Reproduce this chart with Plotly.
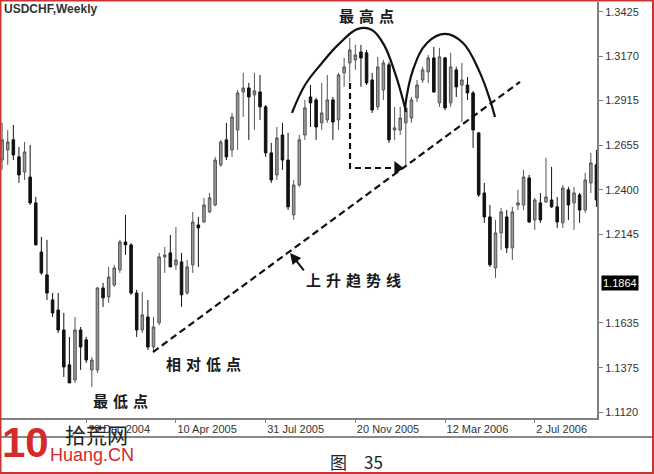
import plotly.graph_objects as go
import pandas as pd

# ---------------- data (weekly USDCHF candles) ----------------
start_week = "2004-09-05"

open_ = [
    1.2572, 1.2630, 1.2688, 1.2590, 1.2503, 1.2474, 1.2325, 1.2042, 1.1910, 1.1766,
    1.1708, 1.1593, 1.1392, 1.1305, 1.1593, 1.1536, 1.1363, 1.1363, 1.1835, 1.1783,
    1.1852, 1.1939, 1.2100, 1.2083, 1.1806, 1.1593, 1.1668, 1.1495, 1.1634, 1.2014,
    1.2037, 1.1968, 1.1985, 1.1806, 1.1968, 1.2198, 1.2215, 1.2273, 1.2313, 1.2544,
    1.2688, 1.2630, 1.2745, 1.2964, 1.2987, 1.2947, 1.2964, 1.2878, 1.2613, 1.2486,
    1.2716, 1.2572, 1.2256, 1.2428, 1.2716, 1.2935, 1.2918, 1.2786, 1.2803, 1.2918,
    1.2803, 1.3074, 1.3131, 1.3148, 1.3194, 1.3189, 1.3033, 1.2878, 1.2976, 1.3120,
    1.2745, 1.2745, 1.2786, 1.2814, 1.2930, 1.3033, 1.3079, 1.3160, 1.2901, 1.3160,
    1.2901, 1.3091, 1.3004, 1.3004, 1.2958, 1.2728, 1.2382, 1.2244, 1.1950, 1.2152,
    1.2244, 1.2066, 1.2313, 1.2313, 1.2469, 1.2227, 1.2325, 1.2330, 1.2342, 1.2302,
    1.2210, 1.2400, 1.2325, 1.2371, 1.2284, 1.2440, 1.2544]

high = [
    1.2786, 1.2745, 1.2774, 1.2647, 1.2676, 1.2659, 1.2359, 1.2129, 1.2112, 1.1806,
    1.1806, 1.1691, 1.1553, 1.1668, 1.1610, 1.1553, 1.1438, 1.1841, 1.1864, 1.1956,
    1.1968, 1.2112, 1.2256, 1.2094, 1.1824, 1.1812, 1.1766, 1.1668, 1.2037, 1.2071,
    1.2140, 1.2186, 1.2037, 1.1996, 1.2273, 1.2244, 1.2354, 1.2382, 1.2590, 1.2688,
    1.2786, 1.2843, 1.2976, 1.3074, 1.3016, 1.3074, 1.3062, 1.2889, 1.2670, 1.2762,
    1.2786, 1.2728, 1.2457, 1.2716, 1.2918, 1.3004, 1.2930, 1.3016, 1.3062, 1.2935,
    1.3074, 1.3160, 1.3275, 1.3235, 1.3235, 1.3206, 1.3074, 1.3166, 1.3148, 1.3137,
    1.2878, 1.2878, 1.2901, 1.2935, 1.3033, 1.3108, 1.3177, 1.3223, 1.3218, 1.3166,
    1.3189, 1.3108, 1.3131, 1.3050, 1.2970, 1.2734, 1.2440, 1.2313, 1.2227, 1.2296,
    1.2284, 1.2302, 1.2400, 1.2515, 1.2486, 1.2354, 1.2382, 1.2584, 1.2532, 1.2359,
    1.2428, 1.2417, 1.2417, 1.2382, 1.2498, 1.2613, 1.2630]

low = [
    1.2515, 1.2544, 1.2572, 1.2440, 1.2457, 1.2313, 1.2083, 1.1910, 1.1766, 1.1668,
    1.1576, 1.1322, 1.1288, 1.1288, 1.1363, 1.1403, 1.1265, 1.1346, 1.1726, 1.1749,
    1.1841, 1.1922, 1.2025, 1.1795, 1.1553, 1.1576, 1.1478, 1.1466, 1.1620, 1.1922,
    1.1956, 1.1939, 1.1726, 1.1795, 1.1922, 1.1956, 1.2210, 1.2267, 1.2305, 1.2532,
    1.2572, 1.2590, 1.2630, 1.2820, 1.2688, 1.2745, 1.2803, 1.2590, 1.2440, 1.2457,
    1.2515, 1.2284, 1.2227, 1.2417, 1.2688, 1.2762, 1.2688, 1.2745, 1.2786, 1.2688,
    1.2745, 1.2993, 1.3022, 1.3091, 1.2993, 1.3004, 1.2843, 1.2860, 1.2918, 1.2670,
    1.2688, 1.2716, 1.2544, 1.2786, 1.2906, 1.3016, 1.3016, 1.2958, 1.2878, 1.2860,
    1.2878, 1.2935, 1.2791, 1.2918, 1.2642, 1.2359, 1.2210, 1.1956, 1.1893, 1.2054,
    1.2037, 1.1996, 1.2284, 1.2284, 1.2210, 1.2169, 1.2210, 1.2325, 1.2296, 1.2181,
    1.2181, 1.2227, 1.2169, 1.2210, 1.2267, 1.2382, 1.2302]

close = [
    1.2688, 1.2676, 1.2601, 1.2486, 1.2618, 1.2325, 1.2083, 1.1922, 1.1806, 1.1691,
    1.1593, 1.1380, 1.1288, 1.1593, 1.1495, 1.1420, 1.1420, 1.1835, 1.1778, 1.1898,
    1.1950, 1.2100, 1.2083, 1.1806, 1.1593, 1.1680, 1.1495, 1.1610, 1.2014, 1.2025,
    1.1956, 1.1996, 1.1795, 1.1956, 1.2215, 1.2181, 1.2313, 1.2354, 1.2572, 1.2676,
    1.2590, 1.2820, 1.2958, 1.2987, 1.2935, 1.2970, 1.2878, 1.2613, 1.2457, 1.2699,
    1.2572, 1.2302, 1.2428, 1.2688, 1.2872, 1.2901, 1.2762, 1.2843, 1.2918, 1.2791,
    1.3062, 1.3108, 1.3206, 1.3177, 1.3160, 1.3016, 1.2860, 1.3108, 1.3131, 1.2688,
    1.2757, 1.2814, 1.2872, 1.2918, 1.3004, 1.3091, 1.3160, 1.2964, 1.3166, 1.2872,
    1.3108, 1.2993, 1.3033, 1.2958, 1.2745, 1.2371, 1.2244, 1.1968, 1.2152, 1.2273,
    1.2066, 1.2273, 1.2325, 1.2474, 1.2215, 1.2342, 1.2227, 1.2359, 1.2302, 1.2215,
    1.2411, 1.2313, 1.2382, 1.2284, 1.2457, 1.2555, 1.2342]

# axis ticks
x_tick_dates = ["2004-12-19", "2005-04-10", "2005-07-31", "2005-11-20", "2006-03-12", "2006-07-02"]
x_tick_labels = ["19 Dec 2004", "10 Apr 2005", "31 Jul 2005", "20 Nov 2005", "12 Mar 2006", "2 Jul 2006"]
y_tick_vals = [1.1120, 1.1375, 1.1635, 1.2145, 1.2400, 1.2655, 1.2915, 1.3170, 1.3425]
y_tick_labels = ["1.1120", "1.1375", "1.1635", "1.2145", "1.2400", "1.2655", "1.2915", "1.3170", "1.3425"]
current_price = 1.1864

# hand-drawn annotation guides (week index from start, price)
arc1_wk = [51.70, 54.02, 57.05, 59.91, 63.47, 65.97, 68.11, 70.07, 71.50, 72.03]
arc1_px = [1.2843, 1.3004, 1.3131, 1.3235, 1.3327, 1.3321, 1.3235, 1.3074, 1.2918, 1.2849]
arc2_wk = [71.86, 73.28, 75.78, 78.99, 82.20, 85.23, 87.02, 87.91]
arc2_px = [1.2878, 1.3091, 1.3246, 1.3298, 1.3246, 1.3074, 1.2918, 1.2820]
trend_wk = [26.91, 92.37]
trend_px = [1.1466, 1.3022]
drop_wk = [62.05, 62.05, 69.9]
drop_px = [1.3016, 1.2526, 1.2526]

# ---------------- figure ----------------
start = pd.Timestamp(start_week)
dates = pd.date_range(start, periods=len(open_), freq="7D")


def wk(i):
    return start + pd.Timedelta(days=7 * i)


W, H = 654, 474
ML, MR, MT, MB = 1, 57, 2, 56
PW, PH = W - ML - MR, H - MT - MB


def px(x):
    return (x - ML) / PW


def py(y):
    return (H - MB - y) / PH


fig = go.Figure()
fig.add_trace(go.Candlestick(
    x=dates, open=open_, high=high, low=low, close=close,
    increasing=dict(line=dict(color="#555555", width=1), fillcolor="#9a9a9a"),
    decreasing=dict(line=dict(color="#111111", width=1), fillcolor="#111111"),
    whiskerwidth=0, showlegend=False, hoverinfo="skip"))

for xs, ys in ((arc1_wk, arc1_px), (arc2_wk, arc2_px)):
    fig.add_trace(go.Scatter(x=[wk(v) for v in xs], y=ys, mode="lines",
                             line=dict(color="#111111", width=2.2, shape="spline", smoothing=1.1),
                             showlegend=False, hoverinfo="skip"))

fig.add_trace(go.Scatter(x=[wk(v) for v in trend_wk], y=trend_px, mode="lines",
                         line=dict(color="#111111", width=2.2, dash="7px,4px"),
                         showlegend=False, hoverinfo="skip"))
fig.add_trace(go.Scatter(x=[wk(v) for v in drop_wk], y=drop_px, mode="lines",
                         line=dict(color="#111111", width=2.2, dash="6px,4px"),
                         showlegend=False, hoverinfo="skip"))
fig.add_trace(go.Scatter(x=[wk(70.5)], y=[drop_px[-1]], mode="markers",
                         marker=dict(symbol="triangle-right", size=12, color="#111111"),
                         showlegend=False, hoverinfo="skip"))

cjk = "Noto Sans CJK SC"
sp = "\u2004"
ann = []


def label(text, x, y, size=15, color="#1a1a1a", family=cjk, bold=True, anchor="center"):
    t = f"<b>{text}</b>" if bold else text
    ann.append(dict(text=t, x=px(x), y=py(y), xref="paper", yref="paper",
                    xanchor=anchor, yanchor="middle", showarrow=False,
                    font=dict(family=family, size=size, color=color)))


label("USDCHF,Weekly", 2, 9, size=12, color="#333333", family="Liberation Sans", anchor="left")
label(sp.join("最高点"), 367, 16)
label(sp.join("上升趋势线"), 353, 279)
label(sp.join("相对低点"), 203, 363)
label(sp.join("最低点"), 121, 400)
label("图" + "\u2003" + "35", 356, 461, size=17, color="#222222", bold=False)

# watermark
label("10", 25, 443, size=42, color="#d42a2a", family="Liberation Sans", anchor="center")
label("拾荒网", 96, 434, size=21, color="#222222", bold=False)
label("Huang.CN", 92, 455, size=18, color="#d42a2a", family="Liberation Sans", bold=False)

# arrow pointing at the trend line
ann.append(dict(x=wk(51.35), y=1.2037, xref="x", yref="y", ax=15, ay=19, text="",
                showarrow=True, arrowhead=2, arrowsize=1.1, arrowwidth=2, arrowcolor="#111111"))

# current price box
ann.append(dict(text="1.1864", x=px(601), y=current_price, xref="paper", yref="y",
                xanchor="left", yanchor="middle", showarrow=False, bgcolor="#000000",
                borderpad=1, font=dict(family="Liberation Sans", size=11, color="#ffffff")))

shapes = [
    dict(type="line", xref="paper", yref="paper", x0=px(0), x1=px(W), y0=py(437), y1=py(437),
         line=dict(color="#888888", width=2)),
    dict(type="rect", xref="paper", yref="paper", x0=px(0.5), x1=px(W - 1), y0=py(0.5), y1=py(H - 1),
         line=dict(color="#cc3333", width=2)),
]

fig.update_layout(
    width=W, height=H,
    margin=dict(l=ML, r=MR, t=MT, b=MB),
    paper_bgcolor="white", plot_bgcolor="white",
    showlegend=False, annotations=ann, shapes=shapes,
    boxgap=0.35,
)
fig.update_xaxes(
    type="date", range=[wk(-0.2), wk(106.1)], rangeslider=dict(visible=False),
    showgrid=False, zeroline=False, showline=True, linecolor="#808080", linewidth=2,
    ticks="outside", ticklen=3, tickcolor="#808080",
    tickvals=x_tick_dates, ticktext=x_tick_labels, ticklabelposition="outside right",
    tickfont=dict(family="Liberation Sans", size=11, color="#333333"),
)
fig.update_yaxes(
    side="right", range=[1.1086, 1.3482], showgrid=False, zeroline=False,
    showline=True, linecolor="#808080", linewidth=2,
    ticks="outside", ticklen=4, tickcolor="#808080",
    tickvals=y_tick_vals, ticktext=y_tick_labels,
    tickfont=dict(family="Liberation Sans", size=11, color="#333333"),
)

fig.write_html("out.html", config={"displayModeBar": False},
               post_script="document.body.style.margin='0';document.body.style.padding='0';")
